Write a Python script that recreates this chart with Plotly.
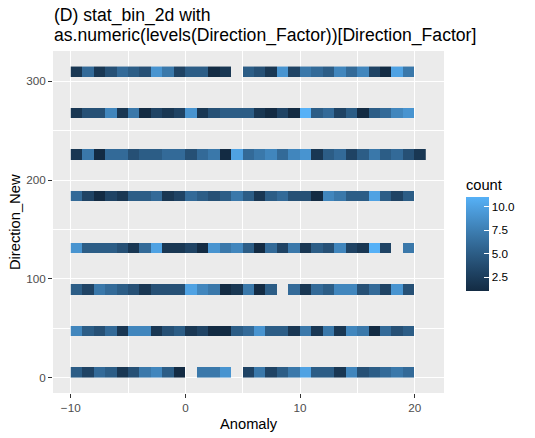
import math

import plotly.graph_objects as go

TITLE_LINES = ["(D) stat_bin_2d with", "as.numeric(levels(Direction_Factor))[Direction_Factor]"]

# anomaly bins (width 1) and direction levels
anomaly_edges = list(range(-10, 22))
direction_levels = [0, 45, 90, 135, 180, 225, 270, 315]
direction_binwidth = 10.5
direction_nbins = 30

# counts per anomaly bin for each direction level (None = empty bin)
count_0 = [5, 3, 6, 5, 2, 4, 7, 8, 5, 1, None, 7, 7, 9, None, 3, 7, 3, 5, 7, 10, 5, 5, 2, 8, 4, 5, 6, 7, 6, None]
count_45 = [8, 5, 4, 6, 2, 8, 8, 2, 4, 5, 2, 3, 1, 1, 5, 6, 9, 5, 5, 2, 7, 2, 7, 2, 8, 7, 1, 6, 4, 5, None]
count_90 = [5, 3, 7, 6, 5, 4, 2, 4, 4, 4, 10, 8, 7, 1, 2, 7, 1, 5, None, 6, 2, 6, 5, 8, 8, 4, 6, 3, 9, 4, None]
count_135 = [9, 5, 5, 5, 4, 2, 6, 10, 2, 2, 3, 1, 9, 7, 8, 5, 1, 6, 3, 7, 2, 5, 4, 8, 3, 2, 11, 3, None, 7, None]
count_180 = [6, 3, 1, 3, 2, 5, 5, 6, 2, 3, 6, 5, 4, 5, 7, 5, 2, 5, 6, 4, 4, 1, 8, 7, 5, 5, 10, 5, 3, 5, None]
count_225 = [2, 7, 1, 6, 6, 4, 5, 5, 6, 6, 4, 6, 7, 1, 10, 6, 7, 8, 6, 8, 9, 2, 5, 6, 3, 5, 7, 5, 6, 4, 2]
count_270 = [2, 4, 4, 8, 2, 7, 1, 3, 2, 3, 9, 2, 4, 5, 5, 5, 2, 1, 3, 1, 11, 5, 6, 3, 5, 1, 5, 6, 8, 9, None]
count_315 = [2, 6, 2, 4, 6, 5, 4, 9, 7, 3, 5, 5, 1, 2, None, 5, 4, 2, 9, 3, 7, 6, 5, 8, 6, 8, 3, 1, 10, 7, None]

counts = [count_0, count_45, count_90, count_135, count_180, count_225, count_270, count_315]

cbar_ticks = [2.5, 5.0, 7.5, 10.0]
cbar_labels = ["2.5", "5.0", "7.5", "10.0"]


# ggplot's default gradient is interpolated in CIELAB
def _to_lab(hexcol):
    rgb = [int(hexcol[i:i + 2], 16) / 255 for i in (1, 3, 5)]
    lin = [c / 12.92 if c <= 0.04045 else ((c + 0.055) / 1.055) ** 2.4 for c in rgb]
    x = (0.4124 * lin[0] + 0.3576 * lin[1] + 0.1805 * lin[2]) / 0.95047
    y = 0.2126 * lin[0] + 0.7152 * lin[1] + 0.0722 * lin[2]
    z = (0.0193 * lin[0] + 0.1192 * lin[1] + 0.9505 * lin[2]) / 1.08883
    f = [t ** (1 / 3) if t > 0.008856 else 7.787 * t + 16 / 116 for t in (x, y, z)]
    return 116 * f[1] - 16, 500 * (f[0] - f[1]), 200 * (f[1] - f[2])


def _from_lab(lab):
    L, a, b = lab
    fy = (L + 16) / 116
    fx = fy + a / 500
    fz = fy - b / 200
    x, y, z = [t ** 3 if t ** 3 > 0.008856 else (t - 16 / 116) / 7.787 for t in (fx, fy, fz)]
    x *= 0.95047
    z *= 1.08883
    lin = [3.2406 * x - 1.5372 * y - 0.4986 * z,
           -0.9689 * x + 1.8758 * y + 0.0415 * z,
           0.0557 * x - 0.2040 * y + 1.0570 * z]
    rgb = [12.92 * c if c <= 0.0031308 else 1.055 * c ** (1 / 2.4) - 0.055 for c in lin]
    return "rgb(%d,%d,%d)" % tuple(round(min(max(c, 0), 1) * 255) for c in rgb)


lo, hi = _to_lab("#132B43"), _to_lab("#56B1F7")
colorscale = [[i / 10, _from_lab([lo[k] + (hi[k] - lo[k]) * i / 10 for k in range(3)])] for i in range(11)]

# full 2d bin grid, rows without data stay empty
y_edges = [i * direction_binwidth for i in range(direction_nbins + 1)]
z = [[None] * (len(anomaly_edges) - 1) for _ in range(direction_nbins)]
for d, row in zip(direction_levels, counts):
    z[max(0, math.ceil(d / direction_binwidth) - 1)] = row

fig = go.Figure(go.Heatmap(
    x=anomaly_edges,
    y=y_edges,
    z=z,
    zmin=1,
    zmax=11,
    colorscale=colorscale,
    hoverongaps=False,
    colorbar=dict(
        title=dict(text="count", side="top", font=dict(size=14.7, color="black")),
        thickness=23,
        thicknessmode="pixels",
        len=115,
        lenmode="pixels",
        x=1.056,
        xanchor="left",
        y=0.466,
        yanchor="middle",
        xpad=0,
        ypad=0,
        outlinewidth=0,
        tickvals=cbar_ticks,
        ticktext=cbar_labels,
        ticks="inside",
        ticklen=5,
        tickcolor="white",
        tickfont=dict(size=11.7, color="black"),
    ),
))

axis_common = dict(
    automargin=False,
    showgrid=True,
    gridcolor="white",
    gridwidth=1.3,
    zeroline=False,
    showline=False,
    ticks="outside",
    ticklen=4,
    tickcolor="#333333",
    tickwidth=1,
    tickfont=dict(size=11.7, color="#4D4D4D"),
)

fig.update_xaxes(
    **axis_common,
    range=[-11.55, 22.55],
    tickvals=[-10, 0, 10, 20],
    minor=dict(dtick=5, tick0=0, showgrid=True, gridcolor="white", gridwidth=0.6, ticks=""),
)
fig.update_yaxes(
    **axis_common,
    range=[-15.75, 330.75],
    tickvals=[0, 100, 200, 300],
    minor=dict(dtick=50, tick0=0, showgrid=True, gridcolor="white", gridwidth=0.6, ticks=""),
)

# plot area in page px: 53..444 across, 51..393 down
plot_w, plot_h, plot_bottom = 391, 342, 393


def py(px):
    return (plot_bottom - px) / plot_h


annotations = [
    dict(text=TITLE_LINES[0], x=-0.003, y=py(16), xanchor="left", yanchor="middle",
         font=dict(size=17.6, color="black")),
    dict(text=TITLE_LINES[1], x=-0.003, y=py(35.5), xanchor="left", yanchor="middle",
         font=dict(size=17.6, color="black")),
    dict(text="Anomaly", x=0.5, y=py(423.5), xanchor="center", yanchor="middle",
         font=dict(size=14.7, color="black")),
    dict(text="Direction_New", x=(15 - 53) / plot_w, y=0.5, xanchor="center", yanchor="middle",
         textangle=-90, font=dict(size=14.7, color="black")),
]
for a in annotations:
    a.update(xref="paper", yref="paper", showarrow=False)

fig.update_layout(
    width=535,
    height=438,
    margin=dict(l=53, r=91, t=51, b=45),
    paper_bgcolor="white",
    plot_bgcolor="#EBEBEB",
    font=dict(family="Liberation Sans, Arial, sans-serif"),
    annotations=annotations,
)

# drop the default 8px body margin so the figure fills the window
fig.write_html(
    "out.html",
    config={"displayModeBar": False},
    post_script="document.body.style.margin = '0';",
)
